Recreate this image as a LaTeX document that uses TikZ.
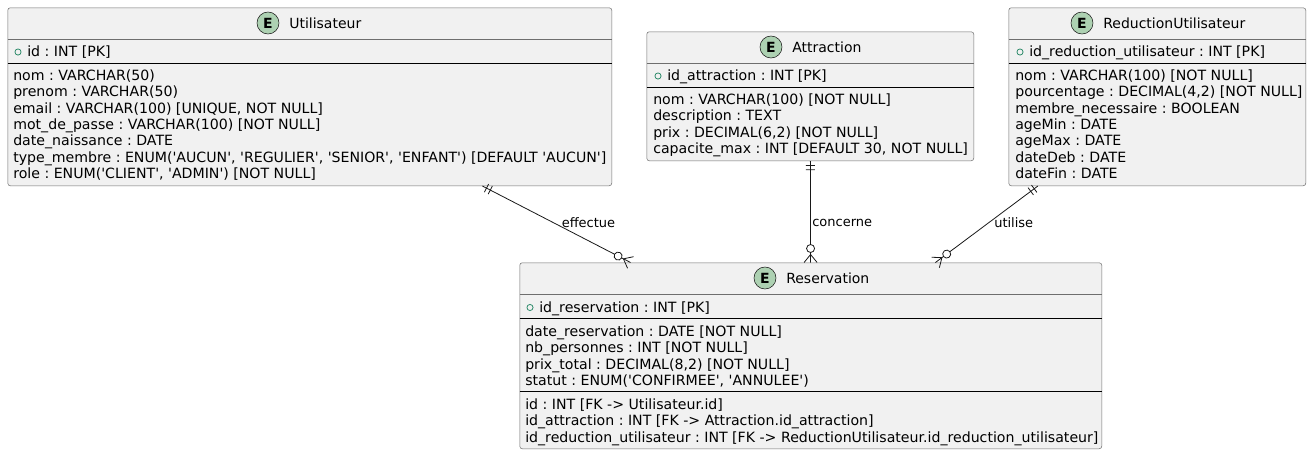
\documentclass[tikz,border=0pt]{standalone}
\usepackage{fontspec}
\newfontfamily\erfont{DejaVu Sans}
\usepackage{xcolor}
\usetikzlibrary{decorations.markings}
\definecolor{EntityFill}{HTML}{F1F1F1}
\definecolor{EntityLine}{HTML}{6E6E6E}
\definecolor{Badge}{HTML}{ADD1B2}
\definecolor{KeyGreen}{HTML}{2E8B6B}
\definecolor{Ink}{HTML}{181818}
\tikzset{
  entitybox/.style={draw=EntityLine,fill=EntityFill,rounded corners=1.9pt,anchor=north west,inner sep=0pt},
  badge/.style={circle,draw=Ink,fill=Badge,inner sep=0pt,minimum size=16.5pt,font=\erfont\fontsize{10.5}{12}\selectfont\bfseries},
  titletext/.style={anchor=base west,inner sep=0pt,font=\erfont\fontsize{10.5}{12}\selectfont},
  attrs/.style={anchor=north west,inner sep=0pt,align=left,font=\erfont\frenchspacing\fontsize{10.6}{12.25}\selectfont,text=black},
  keymark/.style={circle,draw=KeyGreen,line width=0.6pt,inner sep=0pt,minimum size=4.6pt},
  linklabel/.style={inner sep=0pt,font=\erfont\fontsize{9.75}{12}\selectfont,text=black},
  erlink/.style={draw=Ink,line width=0.6pt,postaction={decorate},decoration={markings,
    mark=at position 3.4pt with {\draw[Ink,line width=0.6pt] (0,-3.4pt) -- (0,3.4pt);},
    mark=at position 6.6pt with {\draw[Ink,line width=0.6pt] (0,-3.4pt) -- (0,3.4pt);},
    mark=at position -6pt with {\draw[Ink,line width=0.6pt] (0,0) -- (6pt,-4.9pt) (0,0) -- (6pt,4.9pt);},
    mark=at position -10.5pt with {\draw[Ink,line width=0.6pt,fill=white] (0,0) circle (3pt);}}},
}
\begin{document}
\begin{tikzpicture}[x=0.75pt,y=-0.75pt]
  \useasboundingbox (0,0) rectangle (1311,454);
  % entity boxes: name/x/y/width/height/header rule/key rule
  \foreach \n/\x/\y/\w/\h/\a/\b in {utilisateur/7.5/7.5/604/178/39.5/63.5,attraction/646.5/31.5/327/129/63.5/87.5,reductionutilisateur/1008.5/7.5/297/178/39.5/63.5,reservation/519.5/262.5/582/186/294.5/318.5} {
    \node[entitybox,minimum width=\w*0.75pt,minimum height=\h*0.75pt] (\n) at (\x,\y) {};
    \draw[EntityLine] (\x,\a) -- ++(\w,0);
    \draw[black] (\x,\b) -- ++(\w,0);
  }
  \draw[black] (519.5,391.5) -- ++(582,0);
  % headers
  \foreach \n/\t/\bx/\by in {utilisateur/Utilisateur/268/23,attraction/Attraction/771/47,reductionutilisateur/ReductionUtilisateur/1082/23,reservation/Reservation/765/278} {
    \node[badge] (\n badge) at (\bx,\by) {E};
    \node[titletext] (\n title) at (\bx+21,\by+5) {\t};
  }
  % primary keys
  \foreach \n/\t/\x/\y in {utilisateur/id/13/52,attraction/id\_attraction/653/76,reductionutilisateur/id\_reduction\_utilisateur/1015/52,reservation/id\_reservation/525/307.5} {
    \node[keymark] (\n key) at (\x+5,\y) {};
    \node[attrs] (\n pk) at (\x+14,\y-6.5) {\t\ : INT [PK]};
  }
  \node[attrs] (utilisateur attrs) at (13,69.5) {nom : VARCHAR(50)\\prenom : VARCHAR(50)\\email : VARCHAR(100) [UNIQUE, NOT NULL]\\mot\_de\_passe : VARCHAR(100) [NOT NULL]\\date\_naissance : DATE\\type\_membre : ENUM('AUCUN', 'REGULIER', 'SENIOR', 'ENFANT') [DEFAULT 'AUCUN']\\role : ENUM('CLIENT', 'ADMIN') [NOT NULL]};
  \node[attrs] (attraction attrs) at (653,93.5) {nom : VARCHAR(100) [NOT NULL]\\description : TEXT\\prix : DECIMAL(6,2) [NOT NULL]\\capacite\_max : INT [DEFAULT 30, NOT NULL]};
  \node[attrs] (reductionutilisateur attrs) at (1015,69.5) {nom : VARCHAR(100) [NOT NULL]\\pourcentage : DECIMAL(4,2) [NOT NULL]\\membre\_necessaire : BOOLEAN\\ageMin : DATE\\ageMax : DATE\\dateDeb : DATE\\dateFin : DATE};
  \node[attrs] (reservation attrs) at (525,325.5) {date\_reservation : DATE [NOT NULL]\\nb\_personnes : INT [NOT NULL]\\prix\_total : DECIMAL(8,2) [NOT NULL]\\statut : ENUM('CONFIRMEE', 'ANNULEE')};
  \node[attrs] (reservation fks) at (525,398.5) {id : INT [FK -> Utilisateur.id]\\id\_attraction : INT [FK -> Attraction.id\_attraction]\\id\_reduction\_utilisateur : INT [FK -> ReductionUtilisateur.id\_reduction\_utilisateur]};
  % relations
  \draw[erlink] (utilisateur) -- (reservation);
  \draw[erlink] (attraction) -- (reservation);
  \draw[erlink] (reductionutilisateur) -- (reservation);
  \node[linklabel,anchor=west] (effectue) at (561.5,223) {effectue};
  \node[linklabel,anchor=west] (concerne) at (812,223) {concerne};
  \node[linklabel,anchor=west] (utilise) at (994,223) {utilise};
\end{tikzpicture}
\end{document}
